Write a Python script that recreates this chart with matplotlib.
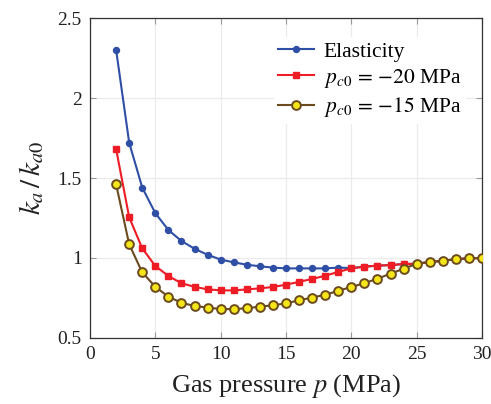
import matplotlib
matplotlib.use("Agg")
import matplotlib.pyplot as plt
from matplotlib.ticker import FuncFormatter

plt.rcParams['font.family'] = ['Liberation Serif', 'DejaVu Serif']
plt.rcParams['mathtext.fontset'] = 'stix'

pressure = [2, 3, 4, 5, 6, 7, 8, 9, 10, 11, 12, 13, 14, 15, 16, 17, 18, 19, 20,
            21, 22, 23, 24, 25, 26, 27, 28, 29, 30]
elasticity = [2.30, 1.72, 1.44, 1.28, 1.175, 1.106, 1.058, 1.02, 0.99, 0.973, 0.958,
              0.948, 0.94, 0.935, 0.935, 0.935, 0.935, 0.94, 0.937,
              0.946, 0.952, 0.956, 0.962, 0.964, 0.975, 0.983, 0.992, 0.998, 1.0]
pc20 = [1.68, 1.254, 1.06, 0.95, 0.8875, 0.842, 0.82, 0.804, 0.798, 0.797, 0.804,
        0.81, 0.819, 0.833, 0.851, 0.869, 0.889, 0.913, 0.935,
        0.946, 0.952, 0.956, 0.962, 0.964, 0.975, 0.983, 0.992, 0.998, 1.0]
pc15 = [1.46, 1.085, 0.91, 0.82, 0.758, 0.72, 0.70, 0.69, 0.681, 0.68, 0.686,
        0.696, 0.704, 0.717, 0.735, 0.753, 0.77, 0.795, 0.819,
        0.842, 0.871, 0.902, 0.933, 0.964, 0.975, 0.983, 0.992, 0.998, 1.0]

labels = ['Elasticity', r'$p_{c0}\,=\,{-}20$ MPa', r'$p_{c0}\,=\,{-}15$ MPa']
xticks = [0, 5, 10, 15, 20, 25, 30]
yticks = [0.5, 1, 1.5, 2, 2.5]

fig = plt.figure(figsize=(4.91, 4.04), dpi=100)
ax = fig.add_axes([0.1833, 0.1634, 0.9817 - 0.1833, 0.9554 - 0.1634])

ax.plot(pressure, elasticity, '-o', color='#2f4fa6', lw=1.5, ms=4.3,
        label=labels[0], zorder=3)
ax.plot(pressure, pc20, '-s', color='#ee1c25', lw=1.5, ms=4.0,
        label=labels[1], zorder=4)
ax.plot(pressure, pc15, '-o', color='#6b4a1e', lw=1.5, ms=6.3,
        markerfacecolor='#f5e61a', markeredgecolor='#6b4a1e', mew=1.4,
        label=labels[2], zorder=5)

ax.set_xlim(0, 30)
ax.set_ylim(0.5, 2.5)
ax.set_xticks(xticks)
ax.set_yticks(yticks)
ax.yaxis.set_major_formatter(FuncFormatter(lambda v, p: '%g' % v))
ax.xaxis.set_major_formatter(FuncFormatter(lambda v, p: '%g' % v))
ax.grid(True, color='#ebebeb', lw=0.9, zorder=0)
ax.set_axisbelow(True)
ax.tick_params(direction='in', length=4, width=0.8, color='#999999',
               top=True, right=True, labelsize=14, pad=6, labelcolor='#222222')
for s in ax.spines.values():
    s.set_color('#333333')
    s.set_linewidth(0.9)

ax.set_xlabel(r'Gas pressure $p$ (MPa)', fontsize=19, color='#222222', labelpad=6)
ax.set_ylabel(r'$k_a\,/\,k_{a0}$', fontsize=21, color='#222222', labelpad=8)

leg = ax.legend(loc='upper right', bbox_to_anchor=(0.958, 0.94), fontsize=15.5,
                frameon=True, framealpha=1, edgecolor='white', fancybox=False,
                handlelength=1.65, handletextpad=0.45, borderaxespad=0.0,
                labelspacing=0.25, borderpad=0.2)
leg.get_frame().set_linewidth(0)

fig.savefig('out.png', dpi=100)
